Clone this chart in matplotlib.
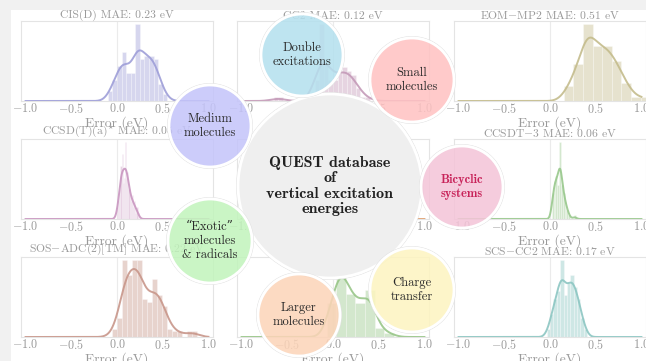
import numpy as np
import matplotlib
matplotlib.use("Agg")
import matplotlib.pyplot as plt
from matplotlib.patches import Circle, Rectangle
from matplotlib.colors import to_rgba

plt.rcParams['font.family'] = ['cmr10', 'DejaVu Serif']
plt.rcParams['mathtext.fontset'] = 'cm'
plt.rcParams['axes.formatter.use_mathtext'] = True

# ---------------- data ----------------
titles = [
    r"CIS(D) MAE: 0.23 eV",
    r"CC2 MAE: 0.12 eV",
    r"EOM$-$MP2 MAE: 0.51 eV",
    r"CCSD(T)(a)$^{\star}$ MAE: 0.05 eV",
    r"CCSD MAE: 0.08 eV",
    r"CCSDT$-$3 MAE: 0.06 eV",
    r"SOS$-$ADC(2)[TM] MAE: 0.22 eV",
    r"ADC(2) MAE: 0.18 eV",
    r"SCS$-$CC2 MAE: 0.17 eV",
]
xlabel_text = "Error (eV)"
xtick_values = [-1.0, -0.5, 0.0, 0.5, 1.0]
xtick_labels = [r"$-1.0$", r"$-0.5$", r"$0.0$", r"$0.5$", r"$1.0$"]

bin_starts = [-0.10, -0.65, 0.15, 0.0, -0.10, 0.02, -0.055, -0.07, -0.037]
bin_widths = [0.05, 0.05, 0.105, 0.0125, 0.05, 0.02, 0.055, 0.105, 0.037]

counts_cisd = [3, 6, 10, 14, 8, 8, 22, 12, 13, 13, 12, 5, 2]
counts_cc2 = [1, 1, 0, 0, 0, 0, 0, 0, 1, 5, 18, 9, 5, 5, 7, 8, 7, 6, 3, 1, 1]
counts_eommp2 = [4, 10, 21, 15, 15, 11, 5, 1, 1]
counts_ccsdt_a = [2, 3, 5, 9, 11, 6, 7, 13, 7, 8, 5, 4, 3, 4, 2, 3, 1, 2, 1]
counts_ccsd = [2, 6, 12, 16, 10, 6, 3, 1]
counts_ccsdt3 = [6, 9, 10, 8, 18, 8, 6, 4, 2, 1, 0, 0, 1]
counts_sosadc2 = [2, 5, 20, 16, 20, 20, 10, 9, 15, 11, 8, 2, 1.5, 1.5, 0, 1.5, 1.5]
counts_adc2 = [8, 18, 10, 8, 11, 2, 1]
counts_scscc2 = [2, 6, 10, 12, 20, 11, 14, 16, 13, 10, 5, 2]

all_counts = [counts_cisd, counts_cc2, counts_eommp2, counts_ccsdt_a, counts_ccsd,
              counts_ccsdt3, counts_sosadc2, counts_adc2, counts_scscc2]

panel_colors = ['#9e9ed8', '#c49ab8', '#c4bc8c', '#c996c0', '#e0a070',
                '#98c88c', '#c8968a', '#98c688', '#8cc6c2']

bubble_labels = ["Double\nexcitations", "Small\nmolecules", "Medium\nmolecules",
                 "Bicyclic\nsystems", "\u201cExotic\u201d\nmolecules\n& radicals",
                 "Larger\nmolecules", "Charge\ntransfer"]
bubble_colors = ['#b4e0ee', '#ffc2c2', '#c4c4fa', '#f4c4d8', '#c2f4bc', '#fcd4b8', '#fdf4c0']
bubble_centers = [(302, 55), (412, 80), (210, 126), (462, 187), (210, 241), (299, 315), (412, 290)]
bubble_radius = [41, 42, 41, 41, 42, 41, 42]
center_label = "QUEST database\nof\nvertical excitation\nenergies"

# ---------------- figure ----------------
W, H = 646, 361
fig = plt.figure(figsize=(W / 100, H / 100), dpi=100)
fig.patch.set_facecolor('white')

col_left = [21, 237, 454]
row_top = [21, 139, 257]
aw, ah = 192, 80
xs = np.linspace(-1.0, 1.0, 600)


def kde_from_bins(centers, cnt, grid):
    centers = np.asarray(centers, float)
    cnt = np.asarray(cnt, float)
    n = cnt.sum()
    mu = (centers * cnt).sum() / n
    sd = np.sqrt(((centers - mu) ** 2 * cnt).sum() / n)
    h = 1.06 * sd * n ** (-0.2)
    d = (cnt[None, :] * np.exp(-0.5 * ((grid[:, None] - centers[None, :]) / h) ** 2)).sum(1)
    return d / (n * h * np.sqrt(2 * np.pi))


for i in range(9):
    r, c = divmod(i, 3)
    ax = fig.add_axes([col_left[c] / W, 1 - (row_top[r] + ah) / H, aw / W, ah / H])
    cnt = np.asarray(all_counts[i], float)
    w = bin_widths[i]
    edges = bin_starts[i] + w * np.arange(len(cnt))
    dens = cnt / (cnt.sum() * w)
    col = panel_colors[i]
    ax.axvline(0, color='#ebebeb', lw=0.8, zorder=0)
    ax.bar(edges, dens, width=w, align='edge', color=col, alpha=0.42,
           edgecolor='white', linewidth=0.5, zorder=2)
    k = kde_from_bins(edges + w / 2, cnt, xs)
    ax.plot(xs, k, color=col, lw=1.4, alpha=0.9, zorder=3)
    ax.set_xlim(-1.05, 1.05)
    ax.set_ylim(0, dens.max() * 1.04)
    ax.set_xticks(xtick_values)
    ax.set_xticklabels(xtick_labels)
    ax.set_yticks([])
    ax.tick_params(axis='x', length=0, pad=1.0, labelsize=8.7, labelcolor='#9a9a9a')
    for s in ax.spines.values():
        s.set_color('#e4e4e4')
        s.set_linewidth(0.8)
    ax.set_title(titles[i], fontsize=8.4, color='#9a9a9a', pad=-1.5)
    ax.set_xlabel(xlabel_text, fontsize=9.8, color='#9a9a9a', labelpad=0)

# ---------------- overlay ----------------
ov = fig.add_axes([0, 0, 1, 1], zorder=10)
ov.set_xlim(0, W)
ov.set_ylim(H, 0)
ov.axis('off')
ov.patch.set_alpha(0)

ov.add_patch(Rectangle((0, 0), W, 10, facecolor='#f1f1f1', edgecolor='none'))
ov.add_patch(Rectangle((0, 0), 11, H, facecolor='#f1f1f1', edgecolor='none'))

# central bubble
ov.add_patch(Circle((330, 186), 93.5, fill=False, edgecolor='#e2e2e2', lw=0.6))
ov.add_patch(Circle((330, 186), 92, facecolor='#efefef', edgecolor='white', lw=2))
ov.text(330, 186, center_label, ha='center', va='center', fontsize=11.5,
        family=['cmb10', 'DejaVu Serif'], color='#222222', linespacing=1.1)

for lab, fc, (cx, cy), rad in zip(bubble_labels, bubble_colors, bubble_centers, bubble_radius):
    ov.add_patch(Circle((cx, cy), rad + 1.5, fill=False, edgecolor='#e2e2e2', lw=0.6))
    ov.add_patch(Circle((cx, cy), rad, facecolor=to_rgba(fc, 0.86), edgecolor='white', lw=2))
    if lab.startswith("Bicyclic"):
        ov.text(cx, cy, lab, ha='center', va='center', fontsize=9.0,
                family=['cmb10', 'DejaVu Serif'], color='#c8245a', linespacing=1.2)
    else:
        ov.text(cx, cy, lab, ha='center', va='center', fontsize=9.0,
                color='#2a2a2a', linespacing=1.2)

fig.savefig('out.png', dpi=100, facecolor='white')
